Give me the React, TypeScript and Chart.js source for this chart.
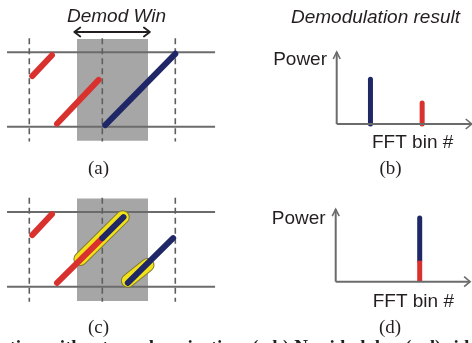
import React, { useEffect, useRef } from 'react';
import { Chart, registerables } from 'chart.js';

Chart.register(...registerables);

type Pt = [number, number];
type Seg = [Pt, Pt];

// ---------- Data: time-frequency panels (x: time in symbols, y: frequency in band units) ----------
const symbolBoundaries = [0, 1, 2];
const bandEdges = [0, 1];
const timeExtent: Pt = [-0.305, 2.545];
const boundaryExtent: Pt = [-0.2, 1.19];
const demodWindowTime: Pt = [0.653, 1.626];
const demodWindowFreq: Pt = [-0.19, 1.18];
const demodArrowFreq = 1.273;
const demodArrowTime: Pt = [0.616, 1.652];

const redChirpA: Seg[] = [
  [[0.04, 0.68], [0.31, 0.96]],
  [[0.38, 0.04], [0.95, 0.63]],
];
const blueChirpA: Seg[] = [[[1.04, 0.02], [2.0, 0.98]]];

const redChirpC: Seg[] = [
  [[0.04, 0.69], [0.31, 0.97]],
  [[0.38, 0.05], [1.0, 0.65]],
];
const blueChirpC: Seg[] = [
  [[1.0, 0.65], [1.29, 0.93]],
  [[1.35, 0.05], [1.97, 0.65]],
];
const highlightC: Seg[] = [
  [[0.70, 0.37], [1.28, 0.93]],
  [[1.35, 0.08], [1.62, 0.29]],
];

// ---------- Data: spectra (x: FFT bin, y: normalised power) ----------
const fftBins = 128;
const powerAxisTop = 1.0;
const peakBinsB = [32, 81];
const peakPowerB = [0.62, 0.29];
const peakBinD = 80;
const peakPowerDRed = 0.29;
const peakPowerDBlue = 0.59;

// ---------- Labels ----------
const demodWinLabel = 'Demod Win';
const resultLabel = 'Demodulation result';
const powerLabel = 'Power';
const binLabel = 'FFT bin #';
const panelLabels = ['(a)', '(b)', '(c)', '(d)'];
const captionText = 'ation without synchronization. (a,b) No side-lobe; (c,d) side-lobe interference';

// ---------- Styles ----------
const RED = '#d9322e';
const BLUE = '#1f2767';
const GRAY_LINE = '#6b6b6b';
const BOX = '#a6a6a6';
const YELLOW = '#f2e21a';
const YELLOW_EDGE = '#7f7a30';
const TEXT = '#231f20';
const SANS = '"Liberation Sans", Arial, sans-serif';
const SERIF = '"Liberation Serif", "Times New Roman", serif';

type Frame = { ox: number; oy: number; ppx: number; ppy: number; w: number; h: number };

function scalesFor(f: Frame) {
  const xmin = -f.ox / f.ppx;
  const ymax = f.oy / f.ppy;
  return {
    x: { type: 'linear', display: false, min: xmin, max: xmin + f.w / f.ppx },
    y: { type: 'linear', display: false, min: ymax - f.h / f.ppy, max: ymax },
  };
}

function line(points: Pt[], color: string, width: number, order: number, extra: any = {}) {
  return {
    type: 'line',
    data: points.map(([x, y]) => ({ x, y })),
    borderColor: color,
    borderWidth: width,
    borderCapStyle: 'round',
    borderJoinStyle: 'round',
    pointRadius: 0,
    pointHoverRadius: 0,
    tension: 0,
    fill: false,
    clip: false,
    order,
    ...extra,
  };
}

function chevron(tip: Pt, dir: 'left' | 'right' | 'up', back: number, side: number, f: Frame): Pt[] {
  const bx = back / f.ppx, by = back / f.ppy, sx = side / f.ppx, sy = side / f.ppy;
  if (dir === 'left') return [[tip[0] + bx, tip[1] + sy], tip, [tip[0] + bx, tip[1] - sy]];
  if (dir === 'right') return [[tip[0] - bx, tip[1] + sy], tip, [tip[0] - bx, tip[1] - sy]];
  return [[tip[0] - sx, tip[1] - by], tip, [tip[0] + sx, tip[1] - by]];
}

type TextItem = { text: string; x: number; y: number; font: string; align: CanvasTextAlign };

const textPlugin = {
  id: 'panelText',
  afterDraw(chart: any, _args: any, opts: any) {
    const ctx = chart.ctx as CanvasRenderingContext2D;
    ctx.save();
    ctx.fillStyle = TEXT;
    ctx.textBaseline = 'alphabetic';
    for (const t of (opts.items || []) as TextItem[]) {
      ctx.font = t.font;
      ctx.textAlign = t.align;
      ctx.fillText(t.text, t.x, t.y);
    }
    ctx.restore();
  },
};

function chirpPanel(f: Frame, red: Seg[], blue: Seg[], highlight: Seg[], withArrow: boolean, texts: TextItem[]) {
  const ds: any[] = [];
  ds.push(
    line(
      [[demodWindowTime[0], demodWindowFreq[1]], [demodWindowTime[1], demodWindowFreq[1]]],
      'transparent', 0, 20,
      { fill: { value: demodWindowFreq[0] }, backgroundColor: BOX, borderCapStyle: 'butt' }
    )
  );
  bandEdges.forEach((v) =>
    ds.push(line([[timeExtent[0], v], [timeExtent[1], v]], GRAY_LINE, 2, 19, { borderCapStyle: 'butt' }))
  );
  symbolBoundaries.forEach((u) =>
    ds.push(
      line([[u, boundaryExtent[1]], [u, boundaryExtent[0]]], '#5e5e5e', 1.6, 18, {
        borderDash: [6, 4],
        borderCapStyle: 'butt',
      })
    )
  );
  highlight.forEach((s) => {
    ds.push(line(s, YELLOW_EDGE, 14, 6));
    ds.push(line(s, YELLOW, 12, 5));
  });
  red.forEach((s) => ds.push(line(s, RED, 6, 2)));
  blue.forEach((s) => ds.push(line(s, BLUE, 6, 1)));
  if (withArrow) {
    const a0: Pt = [demodArrowTime[0], demodArrowFreq];
    const a1: Pt = [demodArrowTime[1], demodArrowFreq];
    ds.push(line([a0, a1], TEXT, 1.8, 0, { borderCapStyle: 'butt' }));
    ds.push(line(chevron(a0, 'left', 6, 4.5, f), TEXT, 1.8, 0));
    ds.push(line(chevron(a1, 'right', 6, 4.5, f), TEXT, 1.8, 0));
  }
  return config(f, ds, texts);
}

function spectrumPanel(f: Frame, bars: { bin: number; from: number; to: number; color: string; cap: string; order: number }[], texts: TextItem[]) {
  const ds: any[] = [];
  const origin: Pt = [0, 0];
  const yTip: Pt = [0, powerAxisTop];
  const xTip: Pt = [fftBins, 0];
  ds.push(line([origin, yTip], GRAY_LINE, 2, 0, { borderCapStyle: 'butt' }));
  ds.push(line([origin, xTip], GRAY_LINE, 2, 0, { borderCapStyle: 'butt' }));
  ds.push(line(chevron(yTip, 'up', 7, 3.5, f), GRAY_LINE, 1.6, 0, { borderJoinStyle: 'miter', borderCapStyle: 'butt' }));
  ds.push(line(chevron(xTip, 'right', 6, 5, f), GRAY_LINE, 1.6, 0, { borderJoinStyle: 'miter', borderCapStyle: 'butt' }));
  bars.forEach((b) =>
    ds.push(line([[b.bin, b.from], [b.bin, b.to]], b.color, 5, b.order, { borderCapStyle: b.cap }))
  );
  return config(f, ds, texts);
}

function config(f: Frame, datasets: any[], texts: TextItem[]): any {
  return {
    type: 'line',
    data: { datasets },
    options: {
      responsive: false,
      animation: false,
      events: [],
      devicePixelRatio: 1,
      layout: { padding: 0 },
      scales: scalesFor(f),
      plugins: {
        legend: { display: false },
        tooltip: { enabled: false },
        title: { display: false },
        panelText: { items: texts },
      },
    },
    plugins: [textPlugin],
  };
}

const italic19 = `italic 19px ${SANS}`;
const sans19 = `19px ${SANS}`;
const serif19 = `19px ${SERIF}`;

const frameA: Frame = { ox: 29.3, oy: 126.7, ppx: 73, ppy: 74.4, w: 240, h: 180 };
const frameC: Frame = { ox: 29.3, oy: 126.7, ppx: 73, ppy: 74.8, w: 240, h: 183 };
const frameB: Frame = { ox: 96.7, oy: 124, ppx: 1.055, ppy: 72, w: 232, h: 180 };
const frameD: Frame = { ox: 95.7, oy: 121.7, ppx: 1.05, ppy: 72.5, w: 232, h: 183 };

function Panel({ left, top, frame, make }: { left: number; top: number; frame: Frame; make: () => any }) {
  const ref = useRef<HTMLCanvasElement>(null);
  useEffect(() => {
    const chart = new Chart(ref.current as HTMLCanvasElement, make());
    return () => chart.destroy();
  }, []);
  return (
    <canvas
      ref={ref}
      width={frame.w}
      height={frame.h}
      style={{ position: 'absolute', left, top, width: frame.w, height: frame.h }}
    />
  );
}

function Caption() {
  const ref = useRef<HTMLCanvasElement>(null);
  useEffect(() => {
    const c = ref.current as HTMLCanvasElement;
    const ctx = c.getContext('2d') as CanvasRenderingContext2D;
    ctx.clearRect(0, 0, c.width, c.height);
    ctx.fillStyle = TEXT;
    ctx.font = `bold 19px ${SERIF}`;
    ctx.textBaseline = 'alphabetic';
    ctx.textAlign = 'left';
    ctx.fillText(captionText, 0, 21);
  }, []);
  return (
    <canvas
      ref={ref}
      width={472}
      height={11}
      style={{ position: 'absolute', left: 0, top: 332, width: 472, height: 11 }}
    />
  );
}

export default function App() {
  return (
    <div
      style={{
        position: 'absolute',
        left: 0,
        top: 0,
        width: 472,
        height: 343,
        overflow: 'hidden',
        background: '#ffffff',
      }}
    >
      <Panel
        left={0}
        top={0}
        frame={frameA}
        make={() =>
          chirpPanel(frameA, redChirpA, blueChirpA, [], true, [
            { text: demodWinLabel, x: 116.5, y: 22, font: italic19, align: 'center' },
            { text: panelLabels[0], x: 98.5, y: 174, font: serif19, align: 'center' },
          ])
        }
      />
      <Panel
        left={240}
        top={0}
        frame={frameB}
        make={() =>
          spectrumPanel(
            frameB,
            peakBinsB.map((bin, i) => ({
              bin,
              from: 0,
              to: peakPowerB[i],
              color: i === 0 ? BLUE : RED,
              cap: 'round',
              order: 1,
            })),
            [
              { text: resultLabel, x: 51, y: 23, font: italic19, align: 'left' },
              { text: powerLabel, x: 87, y: 65, font: sans19, align: 'right' },
              { text: binLabel, x: 132, y: 148, font: sans19, align: 'left' },
              { text: panelLabels[1], x: 150.5, y: 174, font: serif19, align: 'center' },
            ]
          )
        }
      />
      <Panel
        left={0}
        top={160}
        frame={frameC}
        make={() =>
          chirpPanel(frameC, redChirpC, blueChirpC, highlightC, false, [
            { text: panelLabels[2], x: 98.5, y: 173, font: serif19, align: 'center' },
          ])
        }
      />
      <Panel
        left={240}
        top={160}
        frame={frameD}
        make={() =>
          spectrumPanel(
            frameD,
            [
              { bin: peakBinD, from: 0, to: peakPowerDRed, color: RED, cap: 'butt', order: 1 },
              { bin: peakBinD, from: peakPowerDRed, to: peakPowerDRed + peakPowerDBlue, color: BLUE, cap: 'round', order: 2 },
            ],
            [
              { text: powerLabel, x: 85.7, y: 64, font: sans19, align: 'right' },
              { text: binLabel, x: 132.7, y: 147, font: sans19, align: 'left' },
              { text: panelLabels[3], x: 150, y: 173, font: serif19, align: 'center' },
            ]
          )
        }
      />
      <Caption />
    </div>
  );
}
